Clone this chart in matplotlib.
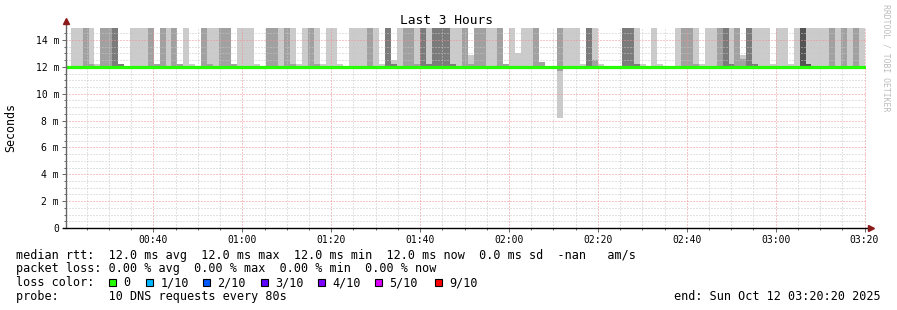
import numpy as np
import matplotlib
matplotlib.use('Agg')
import matplotlib.pyplot as plt
from matplotlib.patches import Rectangle

plt.rcParams['font.family'] = ['DejaVu Sans Mono', 'DejaVu Sans']

## time axis in minutes after midnight
t_start = 20 + 20/60      # 00:20:20
t_end = 200 + 20/60       # 03:20:20
first_sample = 21 + 24/60
step = 80/60              # 10 DNS requests every 80s
tick_minutes = [40, 60, 80, 100, 120, 140, 160, 180, 200]
tick_labels = ['00:40', '01:00', '01:20', '01:40', '02:00', '02:20', '02:40', '03:00', '03:20']
y_ticks = [0, 2, 4, 6, 8, 10, 12, 14]

median_rtt = 12.0
## smoke per sample: 0 none, 1 light, 2 mid, 3 dark, 4 darkest
smoke_shade = [1, 1, 2, 1, 0, 2, 2, 3, 0, 0,
               1, 1, 1, 2, 0, 2, 1, 2, 0, 1,
               0, 0, 2, 1, 1, 2, 2, 0, 1, 1,
               1, 0, 0, 2, 2, 1, 2, 1, 0, 1,
               2, 1, 0, 1, 1, 0, 0, 1, 1, 1,
               2, 1, 0, 3, 1, 1, 2, 2, 1, 3,
               1, 3, 3, 3, 1, 1, 2, 1, 2, 2,
               1, 1, 2, 0, 1, 1, 1, 1, 2, 0,
               0, 0, 2, 1, 1, 1, 0, 3, 1, 0,
               0, 0, 0, 3, 3, 1, 0, 0, 1, 0,
               0, 0, 1, 2, 2, 1, 0, 1, 1, 2,
               3, 1, 2, 1, 3, 1, 1, 1, 0, 1,
               1, 0, 1, 4, 1, 1, 1, 1, 2, 1,
               2, 1, 2, 1]
cap_shade = [0, 0, 0, 2, 1, 0, 0, 0, 3, 0,
             0, 0, 0, 0, 2, 0, 0, 0, 2, 0,
             1, 0, 0, 2, 0, 0, 0, 2, 0, 0,
             0, 1, 0, 0, 0, 0, 0, 2, 1, 0,
             0, 2, 1, 0, 0, 1, 0, 0, 0, 0,
             0, 0, 1, 0, 3, 0, 0, 0, 2, 0,
             3, 0, 0, 0, 3, 0, 0, 2, 0, 0,
             0, 0, 0, 2, 0, 0, 0, 0, 0, 2,
             0, 0, 0, 0, 0, 0, 1, 0, 2, 1,
             0, 0, 0, 0, 0, 3, 1, 0, 0, 1,
             0, 0, 0, 0, 0, 2, 1, 0, 0, 0,
             0, 3, 0, 2, 0, 3, 0, 0, 1, 0,
             0, 1, 0, 0, 4, 0, 0, 0, 0, 0,
             0, 0, 0, 0]
partial_top = {54: 12.5, 67: 12.9, 75: 13.0, 113: 12.9}
cap_top = {79: 12.35, 88: 12.5, 113: 12.6}
low_light = {82: 8.2}
low_mid = {82: 11.7}

shade_colors = {1: '#cbcbcb', 2: '#a1a1a1', 3: '#7b7b7b', 4: '#545454'}
loss_labels = ['0', '1/10', '2/10', '3/10', '4/10', '5/10', '9/10']
loss_colors = ['#26ff00', '#00b8ff', '#0059ff', '#5e00ff', '#7e00ff', '#dd00ff', '#ff0000']

W, H = 897, 310
fig = plt.figure(figsize=(W/100, H/100), dpi=100)
ax = fig.add_axes([66/W, (H-228)/H, 800/W, 200/H])

n = len(smoke_shade)
x = first_sample + step*np.arange(n)
smoke = np.array(smoke_shade)
caps = np.array(cap_shade)
tops = np.array([partial_top.get(i, 16.0) for i in range(n)])
ctops = np.array([cap_top.get(i, 12.22) for i in range(n)])

for lvl, col in shade_colors.items():
    m = smoke == lvl
    ax.bar(x[m], tops[m]-median_rtt, bottom=median_rtt, width=step, align='edge',
           color=col, linewidth=0, zorder=2)
for lvl, col in shade_colors.items():
    m = caps == lvl
    ax.bar(x[m], ctops[m]-median_rtt, bottom=median_rtt, width=step, align='edge',
           color=col, linewidth=0, zorder=2.1)
for i, v in low_light.items():
    ax.bar(x[i], median_rtt-v, bottom=v, width=step, align='edge', color=shade_colors[1], linewidth=0, zorder=2)
for i, v in low_mid.items():
    ax.bar(x[i], median_rtt-v, bottom=v, width=step, align='edge', color=shade_colors[2], linewidth=0, zorder=2.1)

ax.hlines(median_rtt, t_start, t_end, color=loss_colors[0], lw=2.3, zorder=4)

ax.set_xlim(t_start, t_end)
ax.set_ylim(0, 14.89)
ax.set_xticks(tick_minutes)
ax.set_xticklabels(tick_labels)
ax.set_xticks(np.arange(25, 201, 5), minor=True)
ax.set_yticks(y_ticks)
ax.set_yticklabels(['0' if v == 0 else '%d m' % v for v in y_ticks])
ax.set_yticks(np.arange(0.5, 14.9, 0.5), minor=True)

ax.set_axisbelow(False)
ax.grid(which='minor', color='#c6c6c6', lw=0.72, linestyle=(0, (1, 2)))
ax.grid(which='major', color='#f08c8c', lw=0.72, linestyle=(0, (1, 2)))
ax.tick_params(which='both', labelsize=7, color='#666666', width=0.7, direction='out')
ax.tick_params(which='major', length=3, pad=2)
ax.tick_params(which='minor', length=1.5)
for s in ax.spines.values():
    s.set_visible(False)

## axes with arrows
ax.plot([0, 0], [0, 1.03], color='#666666', lw=1, transform=ax.transAxes, clip_on=False, zorder=5)
ax.plot([-0.004, 1.006], [0, 0], color='black', lw=1, transform=ax.transAxes, clip_on=False, zorder=5)
ax.plot([0], [1.035], marker='^', ms=4.5, color='#8b1a1a', transform=ax.transAxes, clip_on=False, zorder=6)
ax.plot([1.006], [0], marker='>', ms=4.5, color='#8b1a1a', transform=ax.transAxes, clip_on=False, zorder=6)

fig.text(446/W, 1-20/H, 'Last 3 Hours', ha='center', va='center', fontsize=9.3)
fig.text(11/W, 1-127/H, 'Seconds', ha='center', va='center', rotation=90, fontsize=8.4)
fig.text(886/W, 1-4/H, 'RRDTOOL / TOBI OETIKER', ha='center', va='top', rotation=270,
         fontsize=5.9, color='#bdbdbd')

fs = 8.5
fig.text(15.5/W, 1-255/H, 'median rtt:  12.0 ms avg  12.0 ms max  12.0 ms min  12.0 ms now  0.0 ms sd  -nan   am/s',
         va='center', fontsize=fs)
fig.text(15.5/W, 1-268.5/H, 'packet loss: 0.00 % avg  0.00 % max  0.00 % min  0.00 % now',
         va='center', fontsize=fs)
fig.text(15.5/W, 1-282.5/H, 'loss color:', va='center', fontsize=fs)
square_x = [109, 146, 203, 261, 318, 375, 435]
for sx, lab, col in zip(square_x, loss_labels, loss_colors):
    fig.add_artist(Rectangle((sx/W, (H-286)/H), 7/W, 7/H, transform=fig.transFigure,
                             facecolor=col, edgecolor='black', lw=0.8))
    fig.text((sx+14.5)/W, 1-282.5/H, lab, va='center', fontsize=fs)
fig.text(15.5/W, 1-296.5/H, 'probe:       10 DNS requests every 80s', va='center', fontsize=fs)
fig.text(881/W, 1-296.5/H, 'end: Sun Oct 12 03:20:20 2025', ha='right', va='center', fontsize=fs)

fig.savefig('out.png', dpi=100)
